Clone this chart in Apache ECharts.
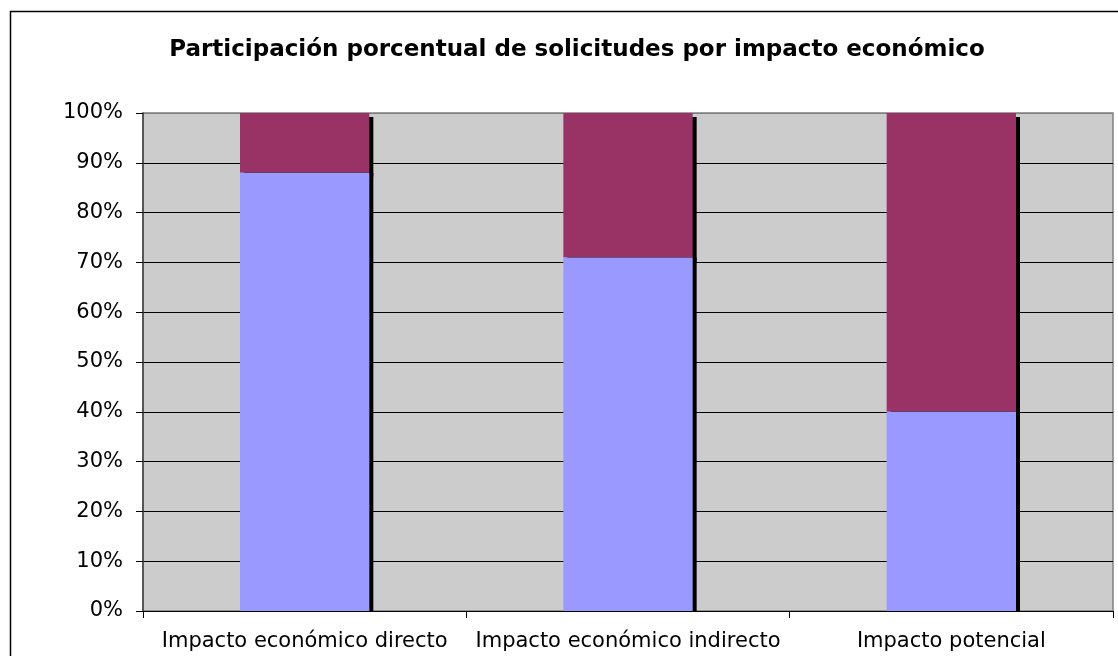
<!DOCTYPE html>
<html>
<head>
<meta charset="utf-8">
<script src="https://cdn.jsdelivr.net/npm/echarts@6/dist/echarts.min.js"></script>
<style>
html,body{margin:0;padding:0;background:#fff;}
#c{width:1118px;height:656px;}
</style>
</head>
<body>
<div id="c"></div>
<script>
const titleText = 'Participación porcentual de solicitudes por impacto económico';
const categories = ['Impacto económico directo', 'Impacto económico indirecto', 'Impacto potencial'];
const seriesNames = ['Serie 1', 'Serie 2'];
const lowerValues = [88, 71, 40];
const upperValues = [12, 29, 60];

const chart = echarts.init(document.getElementById('c'), null, {renderer: 'canvas'});
const font = 'DejaVu Sans';
chart.setOption({
  animation: false,
  backgroundColor: '#ffffff',
  title: {
    text: titleText,
    left: 572,
    textAlign: 'center',
    top: 34,
    textStyle: {fontFamily: font, fontWeight: 'bold', fontSize: 23, color: '#000'}
  },
  graphic: [{
    type: 'rect',
    shape: {x: 10.5, y: 11.5, width: 1130, height: 670},
    style: {fill: 'none', stroke: '#000', lineWidth: 1.5},
    silent: true
  }],
  grid: {
    left: 143, top: 113, width: 970, height: 498,
    show: true, backgroundColor: '#CCCCCC', borderColor: '#808080', borderWidth: 1.5
  },
  xAxis: {
    type: 'category',
    data: categories,
    axisLine: {lineStyle: {color: '#000', width: 1}},
    axisTick: {show: true, length: 7, lineStyle: {color: '#000'}},
    axisLabel: {fontFamily: font, fontSize: 21, color: '#000', margin: 20, interval: 0}
  },
  yAxis: {
    type: 'value',
    min: 0, max: 100, interval: 10,
    axisLine: {show: true, lineStyle: {color: '#404040', width: 1.5}},
    axisTick: {show: true, length: 7, lineStyle: {color: '#000'}},
    axisLabel: {fontFamily: font, fontSize: 21, color: '#000', margin: 20, formatter: '{value}%'},
    splitLine: {show: true, lineStyle: {color: ['#000','#000','#000','#000','#000','#000','#000','#000','#000','#000','#808080'], width: 1}}
  },
  series: [
    {
      name: seriesNames[0], type: 'bar', stack: 'total', data: lowerValues,
      barWidth: '40%', z: 3,
      itemStyle: {color: '#9999FF', shadowColor: '#000', shadowBlur: 0, shadowOffsetX: 4, shadowOffsetY: 0}
    },
    {
      name: seriesNames[1], type: 'bar', stack: 'total', data: upperValues,
      barWidth: '40%', z: 2,
      itemStyle: {color: '#993366', shadowColor: '#000', shadowBlur: 0, shadowOffsetX: 4, shadowOffsetY: 4}
    }
  ]
});
</script>
</body>
</html>
